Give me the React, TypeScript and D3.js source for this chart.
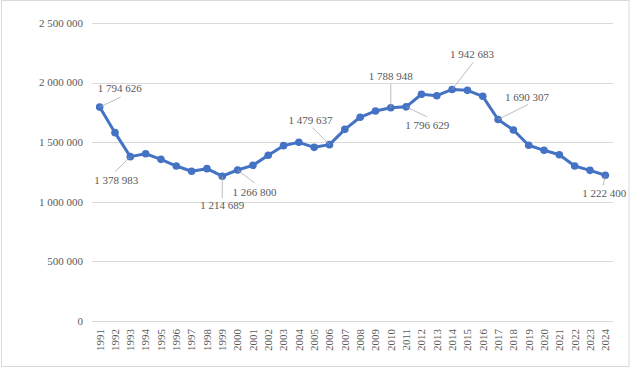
import * as d3 from 'd3';

const years = [
  '1991', '1992', '1993', '1994', '1995', '1996', '1997', '1998', '1999', '2000',
  '2001', '2002', '2003', '2004', '2005', '2006', '2007', '2008', '2009', '2010',
  '2011', '2012', '2013', '2014', '2015', '2016', '2017', '2018', '2019', '2020',
  '2021', '2022', '2023', '2024',
];

const values = [
  1794626, 1580000, 1378983, 1403000, 1356000, 1300000, 1256000, 1278000, 1214689, 1266800,
  1306000, 1390000, 1471000, 1499000, 1457000, 1479637, 1608000, 1709000, 1762000, 1788948,
  1796629, 1902000, 1890000, 1942683, 1935000, 1885000, 1690307, 1602000, 1474000, 1432000,
  1395000, 1300000, 1264000, 1222400,
];

const yTicks = [0, 500000, 1000000, 1500000, 2000000, 2500000];

// which points carry a data label
const labelledYears = ['1991', '1993', '1999', '2000', '2006', '2010', '2011', '2014', '2017', '2024'];

// label placement relative to its point: text centre/baseline, then leader end
const labelOffsets: Record<string, { tx: number; ty: number; lx: number; ly: number }> = {
  '1991': { tx: 20, ty: -15, lx: 21, ly: -10 },
  '1993': { tx: -14, ty: 27, lx: -15, ly: 15 },
  '1999': { tx: 0, ty: 33, lx: 0, ly: 22 },
  '2000': { tx: 17, ty: 26, lx: 17, ly: 13 },
  '2006': { tx: -19, ty: -21, lx: -17, ly: -17 },
  '2010': { tx: 0, ty: -28, lx: 0, ly: -24 },
  '2011': { tx: 21, ty: 22, lx: 21, ly: 10 },
  '2014': { tx: 20, ty: -31, lx: 21, ly: -27 },
  '2017': { tx: 29, ty: -19, lx: 30, ly: -15 },
  '2024': { tx: -1, ty: 22, lx: -2, ly: 10 },
};

const W = 631;
const H = 368;
const margin = { top: 23, right: 18, bottom: 47, left: 92 };
const FONT = '"Liberation Serif", "Times New Roman", serif';
const TEXT = '#595959';
const BLUE = '#4472C4';

const fmt = d3
  .formatLocale({ decimal: ',', thousands: ' ', grouping: [3], currency: ['', ''] })
  .format(',d');

export default function App() {
  const x = d3
    .scaleBand()
    .domain(years)
    .range([margin.left, W - margin.right]);
  const y = d3
    .scaleLinear()
    .domain([0, 2500000])
    .range([H - margin.bottom, margin.top]);

  const cx = (yr: string) => (x(yr) || 0) + x.bandwidth() / 2;
  const pts = years.map((yr, i) => ({ yr, v: values[i], px: cx(yr), py: y(values[i]) }));

  const line = d3
    .line<{ px: number; py: number }>()
    .x((d) => d.px)
    .y((d) => d.py);

  return (
    <svg
      width={W}
      height={H}
      style={{ position: 'absolute', left: 0, top: 0, background: '#fff' }}
      fontFamily={FONT}
    >
      <rect x={1.5} y={0.5} width={627.5} height={366} fill="#fff" stroke="#d9d9d9" />

      {/* grid + y labels */}
      {yTicks.map((t) => (
        <g key={t}>
          <line
            x1={margin.left}
            x2={W - margin.right}
            y1={Math.round(y(t)) + 0.5}
            y2={Math.round(y(t)) + 0.5}
            stroke="#d9d9d9"
          />
          <text x={83} y={y(t)} dy="0.35em" textAnchor="end" fontSize={11} fill={TEXT}>
            {fmt(t)}
          </text>
        </g>
      ))}

      {/* x labels */}
      {years.map((yr) => (
        <text
          key={yr}
          transform={`translate(${cx(yr)},${y(0) + 8}) rotate(-90)`}
          dy="0.35em"
          textAnchor="end"
          fontSize={11}
          fill={TEXT}
        >
          {yr}
        </text>
      ))}

      <path d={line(pts) || ''} fill="none" stroke={BLUE} strokeWidth={3} strokeLinejoin="round" />
      {pts.map((p) => (
        <circle key={p.yr} cx={p.px} cy={p.py} r={3.8} fill={BLUE} />
      ))}

      {/* data labels with leader lines */}
      {pts
        .filter((p) => labelledYears.includes(p.yr))
        .map((p) => {
          const o = labelOffsets[p.yr];
          return (
            <g key={'l' + p.yr}>
              <line
                x1={p.px}
                y1={p.py}
                x2={p.px + o.lx}
                y2={p.py + o.ly}
                stroke="#a6a6a6"
                strokeWidth={0.75}
              />
              <text x={p.px + o.tx} y={p.py + o.ty} textAnchor="middle" fontSize={11} fill={TEXT}>
                {fmt(p.v)}
              </text>
            </g>
          );
        })}
    </svg>
  );
}
